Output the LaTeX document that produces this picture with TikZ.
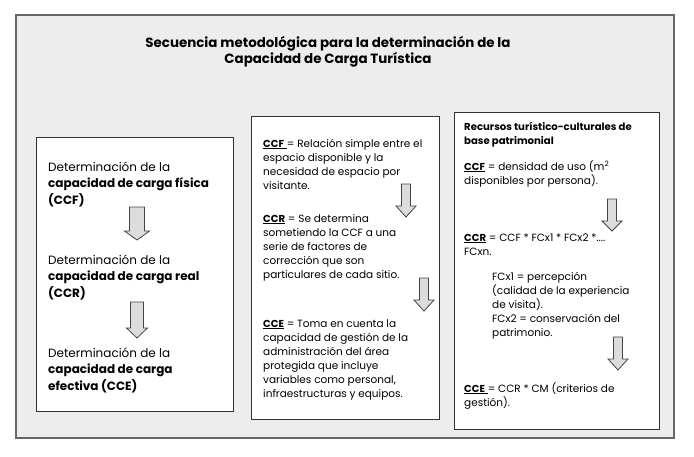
\documentclass[tikz,border=0pt]{standalone}
\usepackage{fontspec}
\setmainfont{Poppins}
\definecolor{outerfill}{HTML}{EDEDED}
\definecolor{outerline}{HTML}{666666}
\definecolor{boxline}{HTML}{333333}
\definecolor{arrfill}{HTML}{DCDCDC}
\definecolor{arrline}{HTML}{444444}
\newcommand\txtblock[1]{\begin{tabular}[t]{@{}l@{}}#1\end{tabular}}
\newcommand\bx[1]{{\fontsize{10.1}{14}\selectfont\bfseries #1}}
\newcommand\blockarrow[7]{% name, cx, top, base, tip, shaft width, head width
  \draw[blockarr] ({#2-#6/2},#3) coordinate (#1) -- ({#2+#6/2},#3) -- ({#2+#6/2},#4)
    -- ({#2+#7/2},#4) -- (#2,#5) -- ({#2-#7/2},#4) -- ({#2-#6/2},#4) -- cycle;}
\begin{document}
\begin{tikzpicture}[x=1pt,y=-1pt,
  outerbox/.style={draw=outerline,fill=outerfill,line width=1.1pt},
  innerbox/.style={draw=boxline,fill=white,line width=0.9pt},
  blockarr/.style={draw=arrline,fill=arrfill,line width=0.8pt},
  txtL/.style={anchor=base west,inner sep=0pt,font=\fontsize{12}{16.7}\selectfont},
  txtM/.style={anchor=base west,inner sep=0pt,font=\fontsize{10.5}{14}\selectfont},
  ttl/.style={anchor=base,inner sep=0pt,font=\bfseries\fontsize{13.4}{16}\selectfont}]
\useasboundingbox (0,0) rectangle (694,456);
\fill[white] (0,0) rectangle (694,456);
% outer frame
\draw[outerbox] (16,15) rectangle (674,438);
% title
\node[ttl] (t1) at (328,47) {Secuencia metodológica para la determinación de la};
\node[ttl] (t2) at (328,63) {Capacidad de Carga Turística};
% boxes
\draw[innerbox] (36,137) rectangle (233,411);
\draw[innerbox] (251,116) rectangle (439,419);
\draw[innerbox] (454,112) rectangle (659,429);
% left box
\node[txtL] (l1) at (48,171) {\txtblock{Determinación de la\\ \textbf{capacidad de carga física}\\ \textbf{(CCF)}}};
\node[txtL] (l2) at (48,264) {\txtblock{Determinación de la\\ \textbf{capacidad de carga real}\\ \textbf{(CCR)}}};
\node[txtL] (l3) at (48,357) {\txtblock{Determinación de la\\ \textbf{capacidad de carga}\\ \textbf{efectiva (CCE)}}};
\blockarrow{la1}{137}{207}{231}{240}{15}{25}
\blockarrow{la2}{137}{302}{328}{338}{13}{21}
% middle box
\node[txtM] (m1) at (263,147) {\txtblock{\underline{\bx{CCF}\ }= Relación simple entre el\\ espacio disponible y la\\ necesidad de espacio por\\ visitante.}};
\node[txtM] (m2) at (263,222) {\txtblock{\underline{\bx{CCR}} = Se determina\\ sometiendo la CCF a una\\ serie de factores de\\ corrección que son\\ particulares de cada sitio.}};
\node[txtM] (m3) at (263,327) {\txtblock{\underline{\bx{CCE}} = Toma en cuenta la\\ capacidad de gestión de la\\ administración del área\\ protegida que incluye\\ variables como personal,\\ infraestructuras y equipos.}};
\blockarrow{ma1}{406}{184}{206}{217}{9}{20}
\blockarrow{ma2}{424}{278}{300}{311}{9}{20}
% right box
\node[txtM] (r0) at (464,130) {\txtblock{\bx{Recursos turístico-culturales de}\\ \bx{base patrimonial}}};
\node[txtM] (r1) at (464,170) {\txtblock{\underline{\bx{CCF}} = densidad de uso (m\textsuperscript{2}\\ disponibles por persona).}};
\node[txtM] (r2) at (464,241) {\txtblock{\underline{\bx{CCR}} = CCF * FCx1 * FCx2 *....\\ FCxn.}};
\node[txtM] (r3) at (492,280) {\txtblock{FCx1 = percepción\\ (calidad de la experiencia\\ de visita).\\ FCx2 = conservación del\\ patrimonio.}};
\node[txtM] (r4) at (464,392) {\txtblock{\underline{\bx{CCE}\ }= CCR * CM (criterios de\\ gestión).}};
\blockarrow{ra1}{612}{199}{221}{231}{9}{20}
\blockarrow{ra2}{618}{337}{359}{370}{9}{20}
\end{tikzpicture}
\end{document}
